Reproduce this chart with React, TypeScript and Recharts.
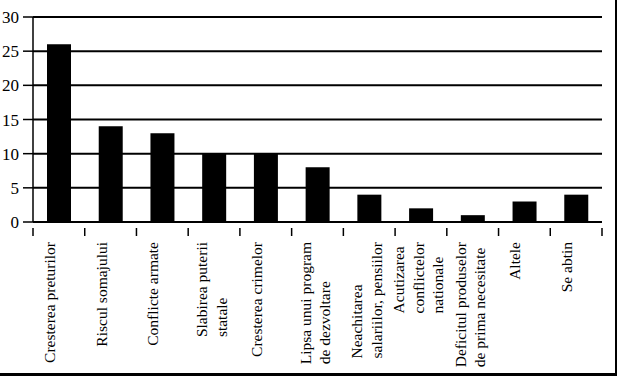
import { BarChart, Bar, XAxis, YAxis, CartesianGrid } from "recharts";

const categories = [
  "Cresterea preturilor",
  "Riscul somajului",
  "Conflicte armate",
  "Slabirea puterii\nstatale",
  "Cresterea crimelor",
  "Lipsa unui program\nde dezvoltare",
  "Neachitarea\nsalariilor, pensiilor",
  "Acutizarea\nconflictelor\nnationale",
  "Deficitul produselor\nde prima necesitate",
  "Altele",
  "Se abtin",
];
const values = [26, 14, 13, 10, 10, 8, 4, 2, 1, 3, 4];
const yTicks = [0, 5, 10, 15, 20, 25, 30];

const data = categories.map((name, i) => ({ name, value: values[i] }));

const W = 617;
const H = 376;
const PLOT_LEFT = 33;
const PLOT_RIGHT = 602;
const PLOT_TOP = 17;
const PLOT_BOTTOM = 222;
const FONT = "'Liberation Serif', 'Times New Roman', serif";
const LABEL_SIZE = 15.5;

let ctx: CanvasRenderingContext2D | null = null;
function measure(s: string) {
  if (!ctx) {
    ctx = document.createElement("canvas").getContext("2d");
    if (ctx) ctx.font = `${LABEL_SIZE}px ${FONT}`;
  }
  return ctx ? ctx.measureText(s).width : s.length * 6.5;
}

// category label: lines stacked sideways, block starts just under the axis
function CategoryTick(props: any) {
  const { x, y, payload, index } = props;
  const step = (PLOT_RIGHT - PLOT_LEFT) / categories.length;
  const lines = String(payload.value).split("\n");
  const longest = Math.max(...lines.map(measure));
  const bottom = y + 12 + longest;
  const gap = 19.5;
  const shift = lines.length === 1 ? -4 : 3;
  return (
    <g>
      <line x1={x - step / 2} x2={x - step / 2} y1={y - 2} y2={y + 6} stroke="#000" strokeWidth={1.5} />
      {index === categories.length - 1 && (
        <line x1={x + step / 2} x2={x + step / 2} y1={y - 2} y2={y + 6} stroke="#000" strokeWidth={1.5} />
      )}
      {lines.map((line, i) => {
        const bx = x + (i - (lines.length - 1) / 2) * gap + shift;
        return (
          <text
            key={i}
            transform={`translate(${bx},${bottom}) rotate(-90)`}
            textAnchor="start"
            style={{ fontFamily: FONT, fontSize: LABEL_SIZE }}
            fill="#000"
          >
            {line}
          </text>
        );
      })}
    </g>
  );
}

export default function App() {
  return (
    <div
      style={{
        position: "absolute",
        left: 0,
        top: 0,
        width: W,
        height: H,
        background: "#fff",
        fontFamily: FONT,
      }}
    >
      <BarChart
        width={W}
        height={H}
        data={data}
        margin={{ top: PLOT_TOP, right: W - PLOT_RIGHT, left: 0, bottom: 0 }}
        barSize={24}
        style={{ fontFamily: FONT }}
      >
        <CartesianGrid vertical={false} stroke="#000" strokeWidth={2} />
        <XAxis
          dataKey="name"
          interval={0}
          height={H - PLOT_BOTTOM}
          axisLine={{ stroke: "#000", strokeWidth: 1.5 }}
          tickLine={false}
          tick={<CategoryTick />}
        />
        <YAxis
          domain={[0, 30]}
          ticks={yTicks}
          width={PLOT_LEFT}
          axisLine={{ stroke: "#000", strokeWidth: 1.5 }}
          tickLine={{ stroke: "#000", strokeWidth: 1.5 }}
          tickSize={10}
          tickMargin={4}
          tick={{ fill: "#000", style: { fontFamily: FONT, fontSize: 17 } }}
        />
        <YAxis
          yAxisId="r"
          orientation="right"
          width={0}
          domain={[0, 30]}
          tick={false}
          tickLine={false}
          axisLine={{ stroke: "#000", strokeWidth: 1.5 }}
        />
        <Bar dataKey="value" fill="#000" isAnimationActive={false} />
      </BarChart>
      <div
        style={{
          position: "absolute",
          right: 0,
          top: 0,
          width: 2,
          height: H,
          background: "#000",
        }}
      />
      <div
        style={{
          position: "absolute",
          left: 0,
          bottom: 0,
          width: W,
          height: 3,
          background: "#000",
        }}
      />
    </div>
  );
}
